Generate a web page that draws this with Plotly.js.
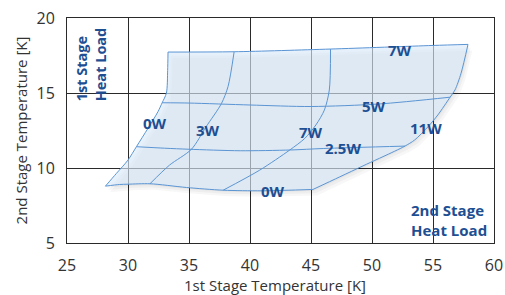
<!DOCTYPE html>
<html>
<head>
<meta charset="utf-8">
<script src="https://cdn.plot.ly/plotly-3.0.1.min.js"></script>
<style>html,body{margin:0;padding:0;background:#fff}#chart{width:505px;height:295px}</style>
</head>
<body>
<div id="chart"></div>
<script>
// Constant 2nd-stage heat load lines (x = 1st stage temp, y = 2nd stage temp)
const s2_0W_x  = [28.15, 29.3, 30.0, 31.8, 34.8, 37.8, 41.0, 45.16];
const s2_0W_y  = [8.79, 8.90, 8.92, 8.95, 8.70, 8.52, 8.48, 8.57];
const s2_25W_x = [30.69, 33.0, 35.0, 39.2, 43.3, 46.0, 52.7];
const s2_25W_y = [11.42, 11.32, 11.25, 11.15, 11.2, 11.3, 11.46];
const s2_5W_x  = [32.8, 35.0, 40.0, 45.0, 50.6, 56.4];
const s2_5W_y  = [14.35, 14.33, 14.2, 14.1, 14.27, 14.72];
const s2_7W_x  = [33.28, 38.7, 46.6, 55.0, 57.87];
const s2_7W_y  = [17.73, 17.75, 17.93, 18.17, 18.24];
// Constant 1st-stage heat load lines (top -> bottom)
const s1_0W_x  = [33.28, 33.25, 33.15, 32.8, 32.46, 31.64, 30.69, 30.0, 29.05, 28.15];
const s1_0W_y  = [17.73, 16.5, 15.0, 14.35, 13.76, 12.65, 11.42, 10.53, 9.64, 8.79];
const s1_3W_x  = [38.7, 38.2, 37.66, 36.4, 35.2, 33.4, 31.8];
const s1_3W_y  = [17.75, 15.43, 14.3, 12.75, 11.25, 10.19, 8.95];
const s1_7W_x  = [46.6, 46.5, 46.1, 45.4, 44.5, 43.26, 40.8, 37.8];
const s1_7W_y  = [17.93, 15.2, 13.87, 12.87, 11.98, 11.2, 9.86, 8.52];
const s1_11W_x = [57.87, 57.3, 56.8, 56.4, 55.4, 54.6, 53.5, 52.7, 51.86, 49.26, 47.36, 45.16];
const s1_11W_y = [18.24, 16.32, 15.2, 14.72, 13.54, 12.76, 11.87, 11.46, 11.12, 10.14, 9.41, 8.57];

// Labels
const labelText = ['0W', '3W', '7W', '11W', '7W', '5W', '2.5W', '0W'];
const labelX    = [32.19, 36.55, 45.03, 54.46, 52.27, 50.2, 47.62, 41.9];
const labelY    = [13.0, 12.53, 12.42, 12.65, 17.88, 14.13, 11.31, 8.45];
const groupText = ['1st Stage<br>Heat Load', '2nd Stage<br>Heat Load'];
const xTitle = '1st Stage Temperature [K]';
const yTitle = '2nd Stage Temperature [K]';

const xTicks = [25, 30, 35, 40, 45, 50, 55, 60];
const yTicks = [5, 10, 15, 20];

const LINE = '#5b95d3';
const LABEL = '#1d4f92';
const FONT = 'Open Sans, sans-serif';

// outline polygon: bottom L->R, right B->T, top R->L, left T->B
const rx = s1_11W_x.slice().reverse(), ry = s1_11W_y.slice().reverse();
const tx = s2_7W_x.slice().reverse(), ty = s2_7W_y.slice().reverse();
const polyX = [].concat(s2_0W_x, rx.slice(1), tx.slice(1), s1_0W_x.slice(1));
const polyY = [].concat(s2_0W_y, ry.slice(1), ty.slice(1), s1_0W_y.slice(1));

const traces = [];
// soft shadow (offset copies of the outline)
const shadowSteps = [[0.1, -0.1, 0.04], [0.22, -0.25, 0.035], [0.36, -0.4, 0.03]];
shadowSteps.forEach(([dx, dy, a]) => {
  traces.push({
    x: polyX.map(v => v + dx), y: polyY.map(v => v + dy),
    type: 'scatter', mode: 'lines', fill: 'toself',
    fillcolor: 'rgba(0,0,0,' + a + ')', line: {width: 0},
    hoverinfo: 'skip', showlegend: false
  });
});
traces.push({
  x: polyX, y: polyY, type: 'scatter', mode: 'lines', fill: 'toself',
  fillcolor: 'rgba(221,236,254,0.64)', line: {width: 0},
  hoverinfo: 'skip', showlegend: false
});
const lines = [
  [s2_0W_x, s2_0W_y], [s2_25W_x, s2_25W_y], [s2_5W_x, s2_5W_y], [s2_7W_x, s2_7W_y],
  [s1_0W_x, s1_0W_y], [s1_3W_x, s1_3W_y], [s1_7W_x, s1_7W_y], [s1_11W_x, s1_11W_y]
];
lines.forEach(([x, y]) => {
  traces.push({
    x: x, y: y, type: 'scatter', mode: 'lines',
    line: {color: LINE, width: 1, shape: 'spline', smoothing: 0.8},
    hoverinfo: 'skip', showlegend: false
  });
});

const annotations = labelText.map((t, i) => ({
  x: labelX[i], y: labelY[i], xref: 'x', yref: 'y', text: '<b>' + t + '</b>', showarrow: false,
  font: {family: FONT, size: 15, color: LABEL}
}));
annotations.push({
  x: 26.95, y: 16.9, xref: 'x', yref: 'y', text: '<b>' + groupText[0] + '</b>', showarrow: false,
  textangle: -90, align: 'left',
  font: {family: FONT, size: 14.5, color: LABEL}
});
annotations.push({
  x: 56.33, y: 6.55, xref: 'x', yref: 'y', text: '<b>' + groupText[1] + '</b>', showarrow: false,
  align: 'left',
  font: {family: FONT, size: 15, color: LABEL}
});
// x-axis title (placed as paper annotation so it sits low like the reference)
annotations.push({
  x: 0.488, y: -0.187, xref: 'paper', yref: 'paper', xanchor: 'center', yanchor: 'middle',
  text: xTitle, showarrow: false,
  font: {family: FONT, size: 15, color: '#333'}
});

const axisCommon = {
  showgrid: true, gridcolor: '#2a2a2a', gridwidth: 1,
  showline: true, linecolor: '#2a2a2a', linewidth: 1, mirror: true,
  zeroline: false, ticks: '', tickfont: {family: FONT, size: 16, color: '#333'},
  fixedrange: true, automargin: false
};

const layout = {
  width: 505, height: 295,
  margin: {l: 67, r: 11, t: 18, b: 52},
  paper_bgcolor: '#fff', plot_bgcolor: '#fff',
  xaxis: Object.assign({}, axisCommon, {
    range: [25, 60], tickvals: xTicks, ticktext: xTicks.map(String), ticklabelstandoff: 8
  }),
  yaxis: Object.assign({}, axisCommon, {
    range: [5, 20], tickvals: yTicks, ticktext: yTicks.map(String), ticklabelstandoff: 8,
    title: {text: yTitle, font: {family: FONT, size: 15, color: '#333'}}
  }),
  annotations: annotations,
  showlegend: false
};

Plotly.newPlot('chart', traces, layout, {staticPlot: true, displayModeBar: false});
</script>
</body>
</html>
